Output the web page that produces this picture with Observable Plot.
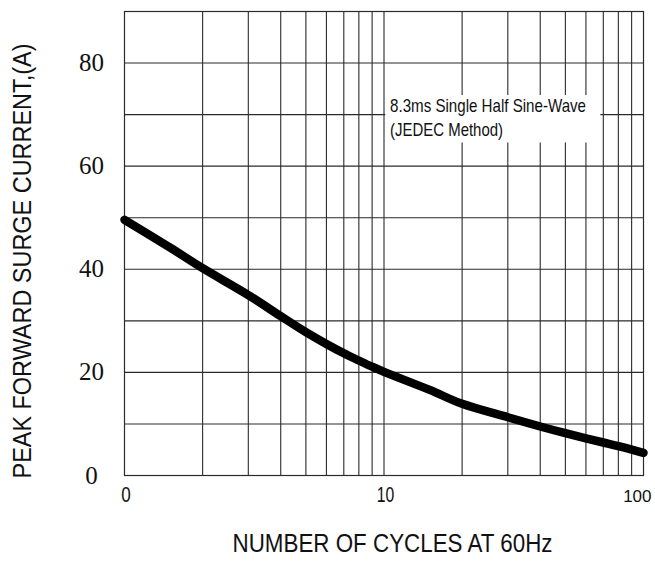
<!DOCTYPE html>
<html><head><meta charset="utf-8">
<script src="https://cdn.jsdelivr.net/npm/d3@7"></script>
<script src="https://cdn.jsdelivr.net/npm/@observablehq/plot@0.6"></script>
<style>body{margin:0;background:#fff} svg{overflow:visible}</style>
</head><body><div id="chart"></div>
<script>
const cycles = [1, 1.5, 2, 3, 4, 5, 6, 7, 8, 9, 10, 15, 20, 30, 40, 50, 60, 70, 80, 100];
const current = [49.6, 44.2, 40.2, 35.0, 30.9, 27.8, 25.5, 23.7, 22.3, 21.1, 20.1, 16.6, 13.9, 11.3, 9.5, 8.2, 7.2, 6.4, 5.7, 4.4];
const xGrid = [2, 3, 4, 5, 6, 7, 8, 9, 10, 20, 30, 40, 50, 60, 70, 80, 90];
const yGrid = [10, 20, 30, 40, 50, 60, 70, 80];
const xTicks = [1, 10, 100];
const xTickLabels = ["0", "10", "100"];
const yTicks = [0, 20, 40, 60, 80];
const noteLines = ["8.3ms Single Half Sine-Wave", "(JEDEC Method)"];
const xTitle = "NUMBER OF CYCLES AT 60Hz";
const yTitle = "PEAK FORWARD SURGE CURRENT,(A)";

const curve = cycles.map((c, i) => ({c, v: current[i]}));
const xTickData = xTicks.map((t, i) => ({t, label: xTickLabels[i]}));
const SANS = "Liberation Sans, Arial, sans-serif";
const SERIF = "Liberation Serif, Times New Roman, serif";
const gridColor = "#2a2a2a";

const plot = Plot.plot({
  width: 655,
  height: 568,
  marginLeft: 124,
  marginRight: 12,
  marginTop: 11,
  marginBottom: 93,
  x: {type: "log", domain: [1, 100], axis: null},
  y: {domain: [0, 90], axis: null},
  marks: [
    Plot.ruleX(xGrid, {stroke: gridColor, strokeWidth: 1.1}),
    Plot.ruleY(yGrid, {stroke: gridColor, strokeWidth: 1.1}),
    Plot.frame({stroke: gridColor, strokeWidth: 1.2}),
    Plot.rect([0], {x1: () => 10.15, x2: () => 68.5, y1: () => 64.5, y2: () => 73.7, fill: "white"}),
    Plot.text([noteLines[0]], {x: () => 10.55, y: () => 70.5, text: d => d, textAnchor: "start", lineAnchor: "bottom", fontFamily: SANS, fontSize: 19, fill: "#111"}),
    Plot.text([noteLines[1]], {x: () => 10.55, y: () => 65.8, text: d => d, textAnchor: "start", lineAnchor: "bottom", fontFamily: SANS, fontSize: 19, fill: "#111"}),
    Plot.line(curve, {x: "c", y: "v", curve: "catmull-rom", stroke: "black", strokeWidth: 8.5, strokeLinecap: "round", strokeLinejoin: "round"}),
    Plot.text(yTicks, {x: () => 1, y: d => d, text: d => String(d), dx: -33, textAnchor: "middle", fontFamily: SERIF, fontSize: 25, fill: "#111"}),
    Plot.text(xTickData.slice(0, 2), {x: "t", text: "label", frameAnchor: "bottom", dx: 1.5, dy: 26, textAnchor: "middle", fontFamily: SANS, fontSize: 22, fill: "#111"}),
    Plot.text(xTickData.slice(2), {x: "t", text: "label", frameAnchor: "bottom", dx: 8, dy: 26, textAnchor: "end", fontFamily: SANS, fontSize: 17, fill: "#111"}),
    Plot.text([xTitle], {text: d => d, frameAnchor: "bottom", dx: 8.5, dy: 76, fontFamily: SANS, fontSize: 26, fill: "#111"}),
    Plot.text([yTitle], {text: d => d, frameAnchor: "left", dx: -102, dy: 235, rotate: -90, textAnchor: "start", fontFamily: SANS, fontSize: 25, fill: "#111"})
  ]
});
document.getElementById("chart").appendChild(plot);

// condense the sans-serif texts to the narrow width of the original
const widths = new Map([
  [yTitle, 435], [xTitle, 320],
  [noteLines[0], 196], [noteLines[1], 113],
  ["0", 9.5], ["10", 17.5]
]);
plot.querySelectorAll("g[font-family^='Liberation Sans'] text").forEach(t => {
  const w = widths.get(t.textContent);
  if (w) { t.setAttribute("textLength", w); t.setAttribute("lengthAdjust", "spacingAndGlyphs"); }
});
</script>
</body></html>
